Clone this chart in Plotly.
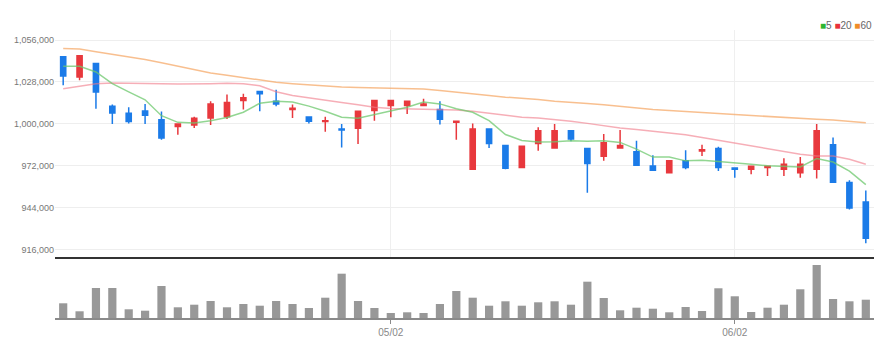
import plotly.graph_objects as go

dates = [
    "2022-04-04", "2022-04-05", "2022-04-06", "2022-04-07", "2022-04-08",
    "2022-04-11", "2022-04-12", "2022-04-13", "2022-04-14", "2022-04-15",
    "2022-04-18", "2022-04-19", "2022-04-20", "2022-04-21", "2022-04-22",
    "2022-04-25", "2022-04-26", "2022-04-27", "2022-04-28", "2022-04-29",
    "2022-05-02", "2022-05-03", "2022-05-04", "2022-05-06", "2022-05-09",
    "2022-05-10", "2022-05-11", "2022-05-12", "2022-05-13", "2022-05-16",
    "2022-05-17", "2022-05-18", "2022-05-19", "2022-05-20", "2022-05-23",
    "2022-05-24", "2022-05-25", "2022-05-26", "2022-05-27", "2022-05-30",
    "2022-05-31", "2022-06-02", "2022-06-03", "2022-06-07", "2022-06-08",
    "2022-06-09", "2022-06-10", "2022-06-13", "2022-06-14", "2022-06-15",
]

opens = [1044800, 1031400, 1040300, 1011900, 1007200, 1008700, 1002900, 998400, 999300, 1004000,
         1004900, 1015700, 1021700, 1015200, 1009600, 1004700, 1001600, 996600, 997100, 1009000,
         1012300, 1012300, 1012300, 1009600, 1001100, 969800, 996600, 985700, 970900, 987000,
         983900, 995500, 983600, 978500, 983900, 981400, 972000, 967500, 975400, 981900,
         983600, 970700, 969800, 970900, 969800, 967500, 969800, 986100, 961000, 948000]
highs = [1045200, 1046000, 1040800, 1013000, 1011200, 1013400, 1008300, 1000200, 1004900, 1015200,
         1019700, 1020200, 1022000, 1022800, 1013000, 1004900, 1004900, 1000000, 1008500, 1015700,
         1015700, 1015700, 1016800, 1015200, 1001800, 1000400, 996600, 985700, 985700, 997800,
         1000000, 995500, 983600, 993300, 996000, 988800, 979200, 975400, 982500, 986100,
         984800, 970700, 971800, 971800, 977200, 978000, 1000000, 991000, 962400, 955600]
lows = [1025800, 1029100, 1010100, 1000000, 1000400, 1000000, 989500, 992800, 997300, 999300,
        1003400, 1009600, 1008500, 1011900, 1004000, 1000400, 994800, 984300, 986600, 1002200,
        1004500, 1006700, 1012300, 999600, 989500, 969800, 983900, 969800, 970400, 982100,
        983900, 988400, 954100, 975400, 983900, 972000, 968600, 967500, 969800, 978700,
        968600, 964200, 966400, 965300, 965300, 964200, 963700, 961200, 942900, 920500]
closes = [1032000, 1045500, 1021300, 1007400, 1001600, 1005800, 990600, 1000000, 1003800, 1013400,
          1014300, 1017500, 1020200, 1013400, 1010500, 1001800, 1002200, 996000, 1008500, 1015700,
          1015700, 1015200, 1013400, 1003100, 1001800, 996600, 987000, 970400, 985200, 995500,
          995500, 989900, 973600, 987500, 985700, 972400, 969100, 975400, 970900, 982800,
          970900, 969800, 971800, 971800, 973100, 973100, 995500, 961200, 944000, 923800]

ma5 = [1038500, 1038500, 1034700, 1026900, 1021400, 1016100, 1005500, 1001100, 1000700, 1002200,
       1004300, 1007800, 1013800, 1015200, 1014700, 1011900, 1008500, 1004500, 1003800, 1006300,
       1008600, 1011200, 1014600, 1013400, 1010100, 1007800, 1002200, 993000, 989000, 988000,
       988100, 988800, 988400, 988800, 987700, 983200, 977900, 978000, 975400, 975800,
       974900, 974200, 973100, 972200, 971800, 971300, 976900, 974600, 968500, 959600]
ma20 = [1023500, 1025100, 1026900, 1027300, 1027300, 1026900, 1026900, 1026600, 1026600, 1026900,
        1027200, 1026800, 1025500, 1021500, 1019000, 1017300, 1015800, 1014300, 1012800, 1011200,
        1010300, 1010000, 1009800, 1009600, 1009400, 1008500, 1007200, 1005600, 1004500, 1004000,
        1003100, 1001800, 1000400, 998900, 997300, 996400, 995100, 994200, 992800, 991000,
        989200, 987500, 985400, 983900, 982100, 979800, 978700, 978700, 976500, 973100]
ma60 = [1050400, 1050000, 1048200, 1046600, 1044800, 1043000, 1040800, 1038500, 1036300, 1034000,
        1032500, 1030900, 1029100, 1027800, 1026900, 1026000, 1025300, 1024600, 1024400, 1024200,
        1024100, 1023700, 1023300, 1022400, 1021100, 1020200, 1019000, 1017900, 1017200, 1016400,
        1015200, 1014600, 1013700, 1012800, 1011600, 1010800, 1009600, 1009000, 1008500, 1007600,
        1007000, 1006300, 1005600, 1004900, 1004500, 1003800, 1003100, 1002700, 1002000, 1000900]

volumes = [14700, 6700, 30000, 30000, 8700, 7300, 32000, 10700, 13300, 17000,
           10700, 14000, 12300, 17000, 14000, 10000, 20300, 44300, 17000, 10000,
           5000, 5700, 5000, 14000, 27000, 20300, 12300, 16700, 12300, 15700,
           16700, 13300, 36300, 20000, 7700, 10300, 9300, 5700, 11000, 7000,
           29700, 21700, 6000, 10300, 13300, 28700, 53000, 19000, 16700, 18300]

price_ticks = [916000, 944000, 972000, 1000000, 1028000, 1056000]
x_tick_dates = ["2022-05-02", "2022-06-02"]
x_tick_labels = ["05/02", "06/02"]
legend_labels = ["5", "20", "60"]

RED = "#e8383d"
BLUE = "#1b7be8"
FONT = "Liberation Sans Narrow, Liberation Sans, sans-serif"

fig = go.Figure()

fig.add_trace(go.Scatter(x=dates, y=ma60, mode="lines", line=dict(color="rgba(245,170,105,0.75)", width=1.5),
                         showlegend=False, hoverinfo="skip", xaxis="x", yaxis="y"))
fig.add_trace(go.Scatter(x=dates, y=ma20, mode="lines", line=dict(color="rgba(240,120,135,0.6)", width=1.5),
                         showlegend=False, hoverinfo="skip", xaxis="x", yaxis="y"))
fig.add_trace(go.Scatter(x=dates, y=ma5, mode="lines", line=dict(color="rgba(110,200,110,0.75)", width=1.5),
                         showlegend=False, hoverinfo="skip", xaxis="x", yaxis="y"))

fig.add_trace(go.Candlestick(
    x=dates, open=opens, high=highs, low=lows, close=closes,
    increasing=dict(line=dict(color=RED, width=1.5), fillcolor=RED),
    decreasing=dict(line=dict(color=BLUE, width=1.5), fillcolor=BLUE),
    whiskerwidth=0, showlegend=False, xaxis="x", yaxis="y",
))

fig.add_trace(go.Bar(x=dates, y=volumes, marker=dict(color="#989898", line=dict(width=0)),
                     width=0.5, showlegend=False, xaxis="x2", yaxis="y2"))

# page body has an 8px default margin: shrink the figure so it fits the window
fig.update_layout(
    width=876, height=341,
    margin=dict(l=47, r=10, t=22, b=31, autoexpand=False),
    paper_bgcolor="white", plot_bgcolor="white",
    boxgap=0.55,
    font=dict(family=FONT, size=9, color="#777777"),
    xaxis=dict(
        type="category", domain=[0, 1], anchor="y", range=[-0.5, 49.5],
        rangeslider=dict(visible=False),
        tickvals=x_tick_dates, ticktext=x_tick_labels, showticklabels=False,
        showgrid=True, gridcolor="#efefef", gridwidth=1,
        showline=True, linecolor="#333333", linewidth=2, ticks="",
        zeroline=False,
    ),
    yaxis=dict(
        domain=[0.212, 1], range=[911333, 1062667],
        tickvals=price_ticks, tickformat=",d",
        showgrid=True, gridcolor="#eeeeee", gridwidth=1,
        showline=False, zeroline=False, ticks="", automargin=False,
        tickfont=dict(family=FONT, size=9, color="#777777"),
    ),
    xaxis2=dict(
        type="category", domain=[0, 1], anchor="y2", matches="x", range=[-0.5, 49.5],
        tickvals=x_tick_dates, ticktext=x_tick_labels,
        showgrid=False, showline=True, linecolor="#8a8a8a", linewidth=2,
        ticks="outside", ticklen=4, tickcolor="#8a8a8a", tickwidth=1,
        tickfont=dict(family=FONT, size=10, color="#888888"),
        zeroline=False, automargin=False,
    ),
    yaxis2=dict(
        domain=[0, 0.198], range=[0, 57000],
        showgrid=False, showticklabels=False, showline=False, zeroline=False, ticks="",
    ),
)

legend_colors = ["#2fb52f", "#e8333b", "#f08c28"]
legend_text = " ".join(
    f'<span style="color:{c}">■</span>{t}' for c, t in zip(legend_colors, legend_labels)
)
fig.add_annotation(
    text=legend_text, xref="paper", yref="paper", x=1.0, y=1.0, yshift=5,
    xanchor="right", yanchor="middle", showarrow=False,
    font=dict(family=FONT, size=10, color="#666666"),
)

fig.write_html("out.html")
